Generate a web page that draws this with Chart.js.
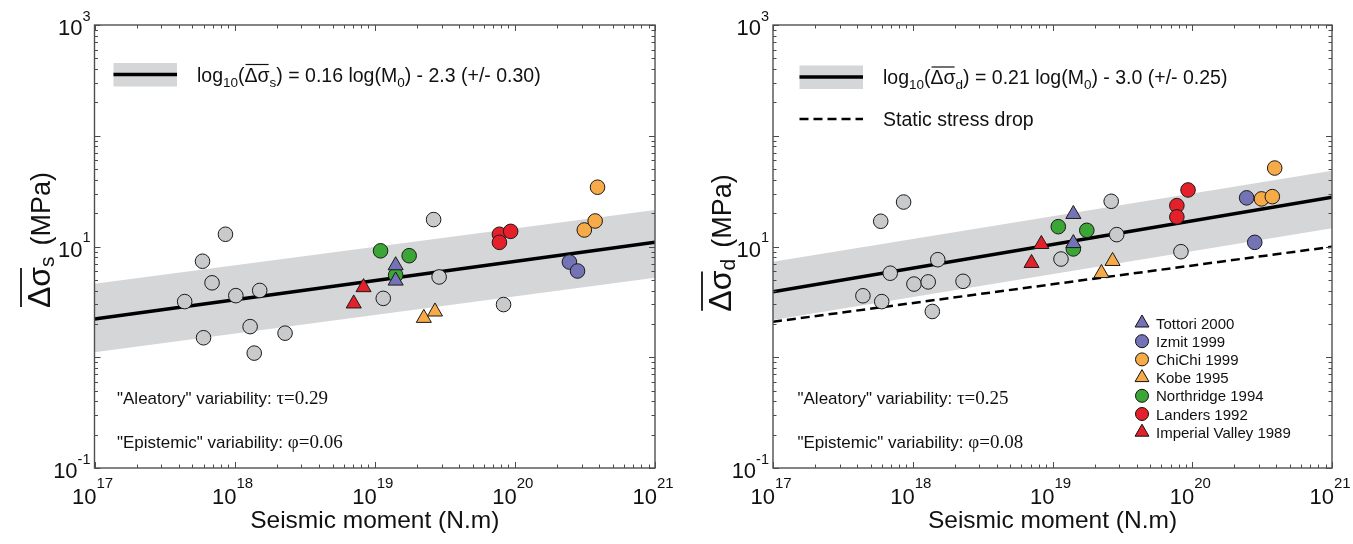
<!DOCTYPE html>
<html>
<head>
<meta charset="utf-8">
<script src="https://cdn.jsdelivr.net/npm/chart.js@4.4.1/dist/chart.umd.min.js"></script>
<style>
    html, body { margin: 0; padding: 0; background: #fff; }
    #contenedor { position: relative; width: 1353px; height: 544px; overflow: hidden; }
    .panel { position: absolute; top: 0; }
    #panelIzq { left: 0; }
    #panelDer { left: 678px; }
</style>
</head>
<body>
<div id="contenedor">
    <div class="panel" id="panelIzq"><canvas id="graficaSs" width="680" height="544"></canvas></div>
    <div class="panel" id="panelDer"><canvas id="graficaSd" width="675" height="544"></canvas></div>
</div>
<script>
// Etiquetas de los ejes (exponentes de 10)
const ejeXExponentes = ['17', '18', '19', '20', '21'];
const ejeYExponentes = ['-1', '1', '3'];

// Eventos sin color (gris): momento sísmico (N.m), caída de esfuerzo Δσs y Δσd (MPa)
const grisM0 = [4.4e17, 5.9e17, 6.0e17, 6.9e17, 8.6e17, 1.02e18, 1.29e18, 1.38e18, 1.51e18, 2.29e18, 1.15e19, 2.63e19, 2.88e19, 8.3e19];
const grisSs = [3.18, 7.36, 1.50, 4.70, 12.9, 3.60, 1.89, 1.09, 4.01, 1.65, 3.40, 17.5, 5.31, 2.99];
const grisSd = [3.59, 16.9, 3.18, 5.74, 25.2, 4.58, 4.79, 2.59, 7.60, 4.85, 7.71, 25.6, 12.8, 8.97];

// Eventos con nombre
const tottoriM0 = [1.41e19, 1.41e19];
const tottoriSs = [6.75, 4.91];
const tottoriSd = [19.6, 10.7];

const izmitM0 = [2.45e20, 2.8e20];
const izmitSs = [7.24, 6.01];
const izmitSd = [27.5, 10.9];

const chichiM0 = [3.13e20, 3.74e20, 3.89e20];
const chichiSs = [14.1, 17.0, 34.3];
const chichiSd = [26.9, 28.2, 51.1];

const kobeM0 = [2.24e19, 2.69e19];
const kobeSs = [2.26, 2.58];
const kobeSd = [5.74, 7.38];

const northridgeM0 = [1.10e19, 1.41e19, 1.76e19];
const northridgeSs = [9.14, 5.51, 8.26];
const northridgeSd = [15.1, 9.51, 14.0];

const landersM0 = [7.76e19, 7.76e19, 9.33e19];
const landersSs = [12.9, 10.9, 13.7];
const landersSd = [23.4, 18.5, 32.4];

const imperialM0 = [7.08e18, 8.32e18];
const imperialSs = [3.05, 4.28];
const imperialSd = [7.08, 10.5];

const ajusteM0 = [1e17, 1e21];
const ajusteSs = [2.21, 10.9];
const bandaSsSup = [4.62, 21.4];
const bandaSsInf = [1.11, 5.22];
const ajusteSd = [3.91, 27.8];
const bandaSdSup = [7.29, 48.3];
const bandaSdInf = [2.17, 14.6];
const estaticoSd = [2.09, 9.95];

const SANS = '"Liberation Sans", Arial, Helvetica, sans-serif';
const SERIF = '"Liberation Serif", "Times New Roman", serif';

const colores = {
    gris: '#c9cacc',
    banda: '#d5d6d8',
    azul: '#7473b5',
    naranja: '#f6aa48',
    verde: '#3ba535',
    rojo: '#e4202a'
};

const eventos = [
    { label: 'Tottori 2000', m0: tottoriM0, ss: tottoriSs, sd: tottoriSd, color: colores.azul, forma: 'triangle', orden: 1 },
    { label: 'Izmit 1999', m0: izmitM0, ss: izmitSs, sd: izmitSd, color: colores.azul, forma: 'circle', orden: 2 },
    { label: 'ChiChi 1999', m0: chichiM0, ss: chichiSs, sd: chichiSd, color: colores.naranja, forma: 'circle', orden: 2 },
    { label: 'Kobe 1995', m0: kobeM0, ss: kobeSs, sd: kobeSd, color: colores.naranja, forma: 'triangle', orden: 2 },
    { label: 'Northridge 1994', m0: northridgeM0, ss: northridgeSs, sd: northridgeSd, color: colores.verde, forma: 'circle', orden: 3 },
    { label: 'Landers 1992', m0: landersM0, ss: landersSs, sd: landersSd, color: colores.rojo, forma: 'circle', orden: 2 },
    { label: 'Imperial Valley 1989', m0: imperialM0, ss: imperialSs, sd: imperialSd, color: colores.rojo, forma: 'triangle', orden: 2 }
];

function puntos(xs, ys) {
    return xs.map((x, i) => ({ x: x, y: ys[i] }));
}

// Dibuja texto con subíndices / superíndices / sobrelínea
function textoRico(ctx, x, y, partes, alinear) {
    let ancho = 0;
    partes.forEach(p => {
        ctx.font = p.size + 'px ' + (p.fam || SANS);
        p.w = ctx.measureText(p.t).width + (p.gap || 0);
        ancho += p.w;
    });
    let cx = x;
    if (alinear === 'right') cx = x - ancho;
    if (alinear === 'center') cx = x - ancho / 2;
    ctx.textAlign = 'left';
    ctx.textBaseline = 'alphabetic';
    partes.forEach(p => {
        ctx.font = p.size + 'px ' + (p.fam || SANS);
        ctx.fillText(p.t, cx + (p.gap || 0), y + (p.dy || 0));
        if (p.sobre) {
            ctx.beginPath();
            ctx.lineWidth = p.sobreGrosor || 1.5;
            ctx.moveTo(cx + 1, y - p.sobre);
            ctx.lineTo(cx + p.w - 1, y - p.sobre);
            ctx.stroke();
        }
        cx += p.w;
    });
}

function dibujarMarcador(ctx, forma, x, y, radio, color) {
    ctx.fillStyle = color;
    ctx.strokeStyle = '#111';
    ctx.lineWidth = 1;
    if (Chart.helpers && Chart.helpers.drawPoint) {
        Chart.helpers.drawPoint(ctx, { pointStyle: forma, radius: radio, rotation: 0, borderWidth: 1 }, x, y);
        return;
    }
    ctx.beginPath();
    if (forma === 'circle') {
        ctx.arc(x, y, radio, 0, Math.PI * 2);
    } else {
        ctx.moveTo(x, y - radio);
        ctx.lineTo(x + radio * 0.866, y + radio * 0.5);
        ctx.lineTo(x - radio * 0.866, y + radio * 0.5);
        ctx.closePath();
    }
    ctx.fill();
    ctx.stroke();
}

// Marco, marcas, etiquetas y textos del panel
function pluginDecoracion(cfg) {
    return {
        id: 'decoracion',
        afterDraw(chart) {
            const ctx = chart.ctx;
            const xs = chart.scales.x;
            const ys = chart.scales.y;
            const a = chart.chartArea;
            ctx.save();

            // marcas hacia dentro en los cuatro lados
            ctx.strokeStyle = '#4a4a4a';
            ctx.lineWidth = 1;
            ctx.beginPath();
            for (let k = 17; k <= 21; k++) {
                for (let m = 1; m <= 9; m++) {
                    const v = m * Math.pow(10, k);
                    if (v > 1.0001e21) break;
                    const px = Math.round(xs.getPixelForValue(v)) + 0.5;
                    const l = m === 1 ? 6 : 3.5;
                    ctx.moveTo(px, a.bottom); ctx.lineTo(px, a.bottom - l);
                    ctx.moveTo(px, a.top); ctx.lineTo(px, a.top + l);
                }
            }
            for (let k = -1; k <= 3; k++) {
                for (let m = 1; m <= 9; m++) {
                    const v = m * Math.pow(10, k);
                    if (v > 1000.01) break;
                    const py = Math.round(ys.getPixelForValue(v)) + 0.5;
                    const l = m === 1 ? 6 : 3.5;
                    ctx.moveTo(a.left, py); ctx.lineTo(a.left + l, py);
                    ctx.moveTo(a.right, py); ctx.lineTo(a.right - l, py);
                }
            }
            ctx.stroke();

            // marco
            ctx.strokeStyle = '#505050';
            ctx.lineWidth = 1.4;
            ctx.strokeRect(a.left, a.top, a.right - a.left, a.bottom - a.top);

            ctx.fillStyle = '#111';
            ctx.strokeStyle = '#111';

            // etiquetas del eje x
            ejeXExponentes.forEach(e => {
                const px = xs.getPixelForValue(Math.pow(10, Number(e)));
                textoRico(ctx, px - 2, a.bottom + 36, [
                    { t: '10', size: 22 },
                    { t: e, size: 15, dy: -16 }
                ], 'center');
            });

            // etiquetas del eje y
            ejeYExponentes.forEach(e => {
                const py = ys.getPixelForValue(Math.pow(10, Number(e)));
                textoRico(ctx, a.left - 4, py + 10, [
                    { t: '10', size: 22 },
                    { t: e, size: 14.5, dy: -14.5 }
                ], 'right');
            });

            // título eje x
            ctx.font = '24.5px ' + SANS;
            ctx.textAlign = 'center';
            ctx.fillText('Seismic moment (N.m)', (a.left + a.right) / 2, 528);

            // título eje y (girado)
            ctx.save();
            ctx.translate(cfg.tituloY.x, cfg.tituloY.y);
            ctx.rotate(-Math.PI / 2);
            textoRico(ctx, 0, 0, [
                { t: 'Δσ', size: 32, sobre: 29, sobreGrosor: 1.8 },
                { t: cfg.sub, size: 21, dy: 4 },
                { t: '(MPa)', size: 27, gap: 11 }
            ], 'center');
            ctx.restore();

            // leyenda de la regresión
            const lg = cfg.leyenda;
            ctx.fillStyle = colores.banda;
            ctx.fillRect(lg.x0, lg.y - 11.5, lg.x1 - lg.x0, 23.5);
            ctx.strokeStyle = '#000';
            ctx.lineWidth = 3.5;
            ctx.beginPath();
            ctx.moveTo(lg.x0, lg.y); ctx.lineTo(lg.x1, lg.y);
            ctx.stroke();
            ctx.fillStyle = '#111';
            ctx.strokeStyle = '#111';
            textoRico(ctx, lg.xt, lg.y + 7, [
                { t: 'log', size: 19.5 },
                { t: '10', size: 13.5, dy: 5 },
                { t: '(', size: 19.5 },
                { t: 'Δσ', size: 19.5, sobre: 17, sobreGrosor: 1.2 },
                { t: cfg.sub, size: 13.5, dy: 5 },
                { t: ') = ' + cfg.formula[0] + ' log(M', size: 19.5 },
                { t: '0', size: 13.5, dy: 5 },
                { t: ') - ' + cfg.formula[1] + ' (+/- ' + cfg.formula[2] + ')', size: 19.5 }
            ], 'left');

            if (cfg.estatico) {
                ctx.strokeStyle = '#000';
                ctx.lineWidth = 2.5;
                ctx.setLineDash([9, 5]);
                ctx.beginPath();
                ctx.moveTo(lg.x0, lg.y + 42); ctx.lineTo(lg.x1, lg.y + 42);
                ctx.stroke();
                ctx.setLineDash([]);
                ctx.font = '19.5px ' + SANS;
                ctx.textAlign = 'left';
                ctx.fillText('Static stress drop', lg.xt, lg.y + 49);
            }

            // variabilidades
            textoRico(ctx, cfg.varX, 404, [
                { t: '"Aleatory" variability: ', size: 17 },
                { t: 'τ=' + cfg.tau, size: 19, fam: SERIF }
            ], 'left');
            textoRico(ctx, cfg.varX, 448, [
                { t: '"Epistemic" variability: ', size: 17 },
                { t: 'φ=' + cfg.phi, size: 19, fam: SERIF }
            ], 'left');

            // leyenda de eventos
            if (cfg.leyendaEventos) {
                const le = cfg.leyendaEventos;
                eventos.forEach((ev, i) => {
                    const y = le.y + i * le.paso;
                    dibujarMarcador(ctx, ev.forma, le.x, y, ev.forma === 'circle' ? 6.5 : 8, ev.color);
                    ctx.fillStyle = '#111';
                    ctx.font = '15px ' + SANS;
                    ctx.textAlign = 'left';
                    ctx.fillText(ev.label, le.x + 14, y + 5.5);
                });
            }
            ctx.restore();
        }
    };
}

function crearDatasets(clave, ajuste, sup, inf, estatico) {
    const ds = [];
    ds.push({
        type: 'line', data: puntos(ajusteM0, sup), borderWidth: 0, pointRadius: 0,
        backgroundColor: colores.banda, fill: '+1', order: 20
    });
    ds.push({
        type: 'line', data: puntos(ajusteM0, inf), borderWidth: 0, pointRadius: 0,
        fill: false, order: 20
    });
    ds.push({
        type: 'line', data: puntos(ajusteM0, ajuste), borderColor: '#000', borderWidth: 3.5,
        pointRadius: 0, fill: false, order: 15
    });
    if (estatico) {
        ds.push({
            type: 'line', data: puntos(ajusteM0, estatico), borderColor: '#000', borderWidth: 2.5,
            borderDash: [9, 5], pointRadius: 0, fill: false, order: 15
        });
    }
    ds.push({
        label: 'otros', data: puntos(grisM0, clave === 'ss' ? grisSs : grisSd),
        backgroundColor: colores.gris, borderColor: '#1a1a1a', borderWidth: 1,
        pointStyle: 'circle', pointRadius: 7.3, order: 5
    });
    eventos.forEach(ev => {
        ds.push({
            label: ev.label, data: puntos(ev.m0, ev[clave]),
            backgroundColor: ev.color, borderColor: '#1a1a1a', borderWidth: 1,
            pointStyle: ev.forma, pointRadius: ev.forma === 'circle' ? 7.3 : 8.7, order: ev.orden
        });
    });
    return ds;
}

function crearGrafica(id, datasets, padding, cfg) {
    const ctx = document.getElementById(id);
    new Chart(ctx, {
        type: 'scatter',
        data: { datasets: datasets },
        options: {
            responsive: false,
            animation: false,
            events: [],
            layout: { padding: padding },
            plugins: {
                legend: { display: false },
                tooltip: { enabled: false }
            },
            scales: {
                x: { type: 'logarithmic', min: 1e17, max: 1e21, display: false },
                y: { type: 'logarithmic', min: 0.1, max: 1000, display: false }
            }
        },
        plugins: [pluginDecoracion(cfg)]
    });
}

crearGrafica('graficaSs',
    crearDatasets('ss', ajusteSs, bandaSsSup, bandaSsInf, null),
    { left: 94.5, right: 25, top: 25, bottom: 76 },
    {
        sub: 's', formula: ['0.16', '2.3', '0.30'], tau: '0.29', phi: '0.06',
        tituloY: { x: 50, y: 240 },
        leyenda: { x0: 113.5, x1: 177, y: 74.5, xt: 197 },
        varX: 117
    });

crearGrafica('graficaSd',
    crearDatasets('sd', ajusteSd, bandaSdSup, bandaSdInf, estaticoSd),
    { left: 95, right: 21, top: 25, bottom: 76 },
    {
        sub: 'd', formula: ['0.21', '3.0', '0.25'], tau: '0.25', phi: '0.08',
        tituloY: { x: 53, y: 243 },
        leyenda: { x0: 121.5, x1: 185, y: 77, xt: 205 },
        varX: 119.5,
        estatico: true,
        leyendaEventos: { x: 464, y: 323, paso: 18.2 }
    });
</script>
</body>
</html>
